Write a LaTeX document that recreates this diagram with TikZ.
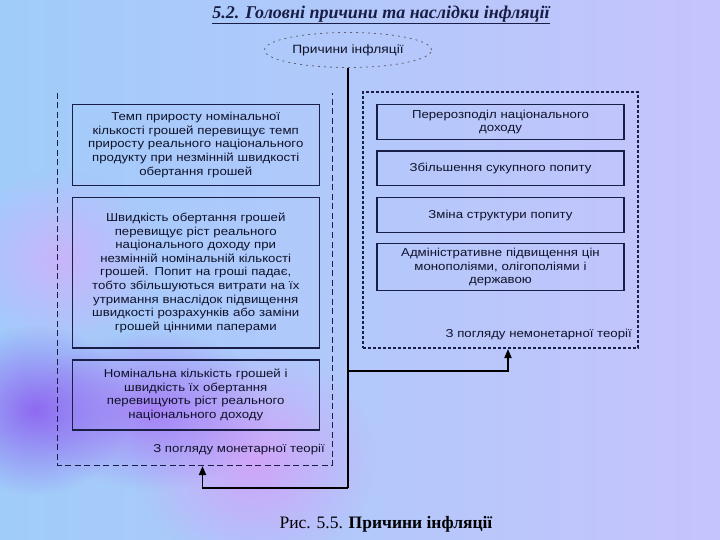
\documentclass[tikz,border=0pt]{standalone}
\usepackage{fontspec}
\setmainfont{Liberation Serif}
\setsansfont[FakeStretch=1.15]{Liberation Sans}
\usetikzlibrary{arrows.meta,fadings,shapes.geometric}
\definecolor{bgblue}{RGB}{160,204,250}
\definecolor{bglav}{RGB}{198,196,252}
\definecolor{blobdeep}{RGB}{140,95,240}
\definecolor{blobmid}{RGB}{165,120,245}
\definecolor{blobpink}{RGB}{212,160,248}
\definecolor{bloblav}{RGB}{205,178,250}
\definecolor{navy}{RGB}{25,30,70}
\tikzfading[name=blobfade, inner color=transparent!10, outer color=transparent!100]
\tikzset{
	cbox/.style={draw=navy, line width=1.2pt, text=navy!60!black, align=center, inner sep=0pt,
		minimum width=247pt, text width=244pt, font=\sffamily\fontsize{11.5}{13.6}\selectfont},
	theory/.style={anchor=east, text=navy!60!black, inner sep=0pt, font=\sffamily\fontsize{11.5}{13.6}\selectfont},
	monframe/.style={draw=navy, line width=1.1pt, dash pattern=on 6pt off 3.5pt},
	nonframe/.style={draw=navy, line width=1.3pt, dash pattern=on 3pt off 2pt},
	link/.style={draw=black, line width=1.8pt},
	linkarr/.style={link, -{Triangle[length=9pt,width=7pt]}}
}
\begin{document}
\begin{tikzpicture}[x=1pt,y=-1pt]
		\useasboundingbox (0,0) rectangle (720,540);
		% background
		\begin{scope}
			\clip (0,0) rectangle (720,540);
			\shade[left color=bgblue, right color=bglav] (0,0) rectangle (720,540);
			\fill[bloblav, path fading=blobfade] (60,260) ellipse (100pt and 90pt);
			\fill[blobpink, path fading=blobfade] (255,460) ellipse (120pt and 110pt);
			\fill[blobmid, path fading=blobfade] (150,410) ellipse (120pt and 80pt);
			\fill[blobdeep, path fading=blobfade] (35,410) ellipse (95pt and 85pt);
		\end{scope}
		
		\node[text=navy, font=\fontsize{18}{21}\selectfont\bfseries\itshape] (title) at (381,15) {\underline{5.2. Головні причини та наслідки інфляції}};
		\node[ellipse, draw=gray!70!navy, line width=0.8pt, dash pattern=on 2pt off 4pt, minimum width=167pt, minimum height=35pt, inner sep=0pt, text=navy!60!black, font=\sffamily\fontsize{12}{14}\selectfont] (cause) at (348,50) {Причини інфляції};
		
		% monetary view
		\node[minimum width=274pt, minimum height=372pt, inner sep=0pt] (mon) at (195,279) {};
		\draw[monframe] (mon.north west) -- (mon.south west) -- (mon.south east) -- (mon.north east);
		\node[cbox, minimum height=81pt] (m1) at (195.75,145) {Темп приросту номінальної\\кількості грошей перевищує темп\\приросту реального національного\\продукту при незмінній швидкості\\обертання грошей};
		\node[cbox, minimum height=150.4pt] (m2) at (195.75,272.8) {Швидкість обертання грошей\\перевищує ріст реального\\національного доходу при\\незмінній номінальній кількості\\грошей. Попит на гроші падає,\\тобто збільшуються витрати на їх\\утримання внаслідок підвищення\\швидкості розрахунків або заміни\\грошей цінними паперами};
		\node[cbox, minimum height=70pt] (m3) at (195.75,395) {Номінальна кількість грошей і\\швидкість їх обертання\\перевищують ріст реального\\національного доходу};
		\node[theory] (mlabel) at (325,450) {З погляду монетарної теорії};
		
		% non-monetary view
		\node[nonframe, minimum width=275pt, minimum height=256pt, inner sep=0pt] (non) at (500.5,220) {};
		\node[cbox, minimum height=35.2pt] (n1) at (500.5,122.1) {Перерозподіл національного\\доходу};
		\node[cbox, minimum height=34.5pt] (n2) at (500.5,168.3) {Збільшення сукупного попиту};
		\node[cbox, minimum height=35.2pt] (n3) at (500.5,215.2) {Зміна структури попиту};
		\node[cbox, minimum height=46.9pt] (n4) at (500.5,267.3) {Адміністративне підвищення цін\\монополіями, олігополіями і\\державою};
		\node[theory] (nlabel) at (632,335) {З погляду немонетарної теорії};
		
		% connectors
		\coordinate (hub) at (348,488);
		\coordinate (fork) at (348,370.7);
		\coordinate (monin) at (202.5,466);
		\coordinate (nonin) at (508,349);
		\draw[link] (cause.south) -- (hub);
		\draw[linkarr] (hub) -| (monin);
		\draw[linkarr] (fork) -| (nonin);
		
		\node[font=\fontsize{17.5}{20}\selectfont] (caption) at (386,524) {Рис. 5.5. \textbf{Причини інфляції}};
		\end{tikzpicture}
\end{document}
